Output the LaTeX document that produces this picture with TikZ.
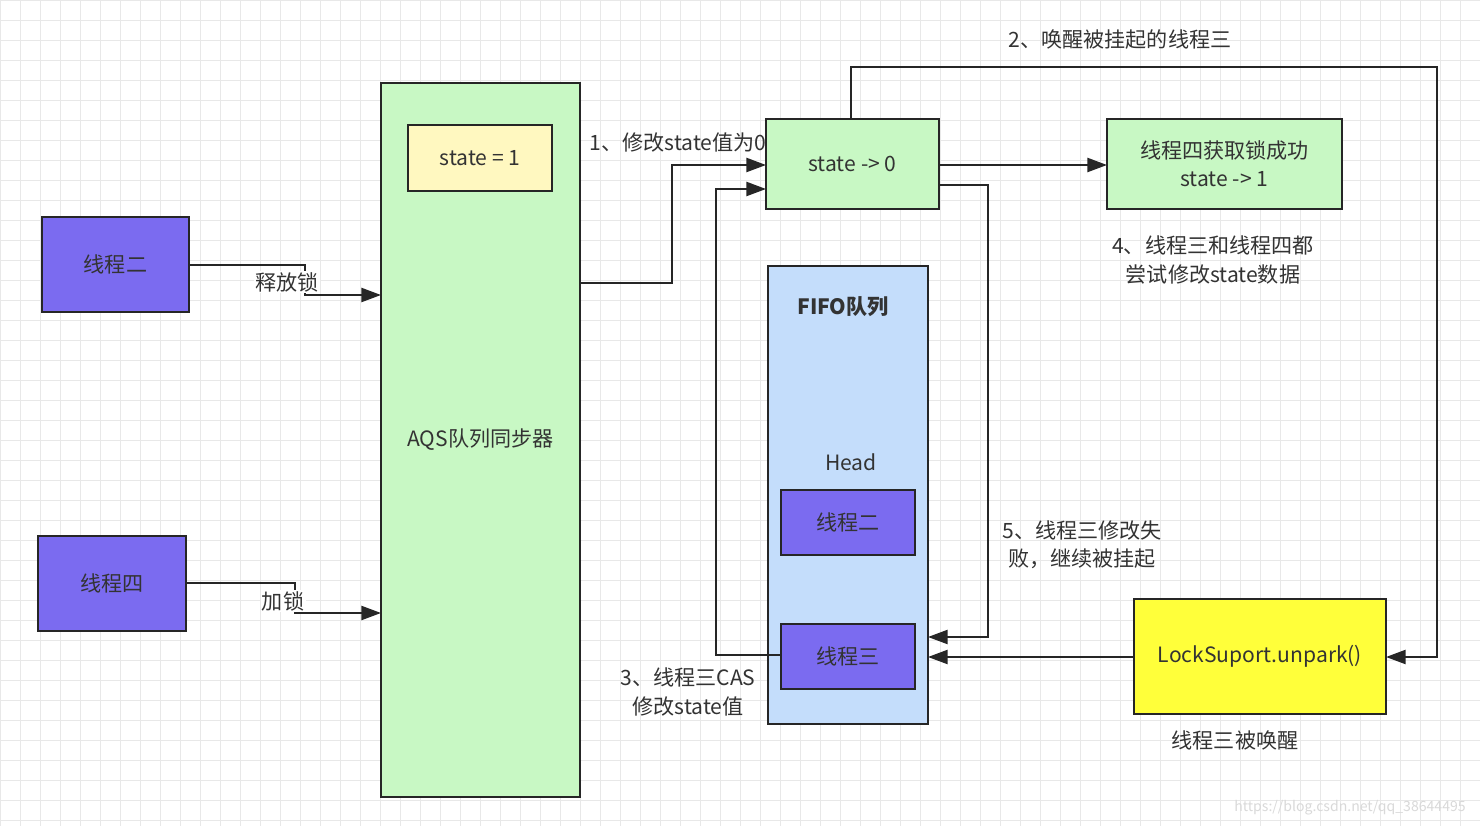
\documentclass[tikz,border=0pt]{standalone}
\usepackage{fontspec}
\setmainfont{Noto Sans CJK SC}
\usetikzlibrary{arrows.meta}
\definecolor{thrblue}{HTML}{7B6BF0}
\definecolor{aqsgreen}{HTML}{C8F8C4}
\definecolor{stateyel}{HTML}{FFF8C0}
\definecolor{fifoblue}{HTML}{C4DDFB}
\definecolor{lockyel}{HTML}{FFFF3A}
\definecolor{txt}{HTML}{333333}
\tikzset{
  box/.style={draw=black!85, line width=1.6pt, text=txt},
  lbl/.style={text=txt, align=center},
  conn/.style={line width=1.6pt, draw=black!85, -{Triangle[length=14pt,width=10pt]}}
}
\begin{document}
\begin{tikzpicture}[x=0.025cm,y=-0.025cm,font=\fontsize{15}{20}\selectfont]
		\useasboundingbox (0,0) rectangle (1480,826);
		\fill[white] (0,0) rectangle (1480,826);
		% grid
		\foreach \gx in {0,20,...,1480} \draw[black!9, line width=0.4pt] (\gx,0) -- (\gx,826);
		\foreach \gy in {0,20,...,820} \draw[black!9, line width=0.4pt] (0,\gy) -- (1480,\gy);
		
		\fill[box,fill=thrblue] (42,217) rectangle node[lbl] (t2) {线程二} (189,312);
		\fill[box,fill=thrblue] (38,536) rectangle node[lbl] (t4) {线程四} (186,631);
		\fill[box,fill=aqsgreen] (381,83) rectangle node[lbl] (aqs) {AQS队列同步器} (580,797);
		\fill[box,fill=stateyel] (408,125) rectangle node[lbl] (s1) {state = 1} (552,191);
		\fill[box,fill=aqsgreen] (766,119) rectangle node[lbl] (s0) {state -> 0} (939,209);
		\fill[box,fill=aqsgreen] (1107,119) rectangle node[lbl] (t4ok) {线程四获取锁成功\\state -> 1} (1342,209);
		\fill[box,fill=fifoblue] (768,266) rectangle (928,724);
		\node[lbl,font=\fontsize{15}{20}\selectfont\bfseries] (fifo) at (843,307) {FIFO队列};
		\node[lbl] (head) at (851,462) {Head};
		\fill[box,fill=thrblue] (781,490) rectangle node[lbl] (q2) {线程二} (915,555);
		\fill[box,fill=thrblue] (781,624) rectangle node[lbl] (q3) {线程三} (915,689);
		\fill[box,fill=lockyel] (1134,599) rectangle node[lbl] (lock) {LockSuport.unpark()} (1386,714);
		
		% connectors
		\draw[conn] (189,265) -- (305,265) -- (305,295) -- (381,295);
		\node[lbl,fill=white,inner sep=1pt] at (287,282) {释放锁};
		\draw[conn] (186,583) -- (295,583) -- (295,613) -- (381,613);
		\node[lbl,fill=white,inner sep=1pt] at (283,601) {加锁};
		\draw[conn] (580,283) -- (672,283) -- (672,165) -- (766,165);
		\node[lbl] at (678,143) {1、修改state值为0};
		\draw[conn] (851,119) -- (851,67) -- (1437,67) -- (1437,657) -- (1386,657);
		\node[lbl] at (1120,40) {2、唤醒被挂起的线程三};
		\draw[conn] (939,165) -- (1107,165);
		\draw[conn] (939,185) -- (988,185) -- (988,637) -- (928,637);
		\node[lbl] at (1082,545) {5、线程三修改失\\败，继续被挂起};
		\draw[conn] (781,655) -- (716,655) -- (716,189) -- (766,189);
		\node[lbl] at (688,692) {3、线程三CAS\\修改state值};
		\draw[conn] (1134,657) -- (928,657);
		\node[lbl] at (1213,260) {4、线程三和线程四都\\尝试修改state数据};
		\node[lbl] at (1235,740) {线程三被唤醒};
		\node[text=black!15,font=\fontsize{10}{12}\selectfont] at (1350,808) {https://blog.csdn.net/qq\_38644495};
	\end{tikzpicture}
\end{document}
